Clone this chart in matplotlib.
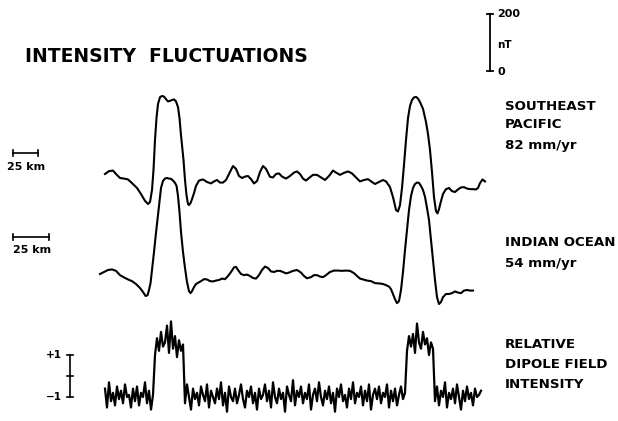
import matplotlib.pyplot as plt
import numpy as np

# Southeast Pacific profile: distance (km) and anomaly (nT)
sep_km = [1, 5, 9, 12, 16, 20, 24, 28, 33, 37, 41, 44, 46, 48, 49.5, 51, 52.5, 54, 56, 58,
          60, 62, 64, 66, 68, 70, 72, 74, 75.5, 77, 78.5, 79.5, 81, 82.5, 84, 85, 86.5, 88, 90, 92,
          95, 99, 103, 107, 110, 113, 116, 119, 122, 125, 129, 132, 135, 138, 141, 144, 147, 150, 153, 156,
          159, 162, 166, 169, 172, 175, 178, 182, 186, 190, 193, 196, 199, 202, 205, 209, 213, 217, 221, 225,
          229, 232, 236, 240, 244, 248, 252, 256, 260, 264, 268, 271, 275, 279, 282, 286, 289, 292, 294, 296,
          298, 300, 302, 304, 306, 308, 310, 312, 314, 316, 319, 322, 324, 326, 328, 330, 332, 333.5, 335, 337,
          339, 342, 345, 348, 351, 354, 357, 360, 363, 366, 369, 372, 374, 376, 378.5, 381]
sep_nt = [14, 24, 26, 14, 0, -2, -5, -18, -35, -56, -80, -91, -84, -42, 28, 133, 210, 259, 283, 287,
          285, 276, 268, 270, 273, 275, 268, 248, 210, 150, 98, 63, -7, -60, -91, -95, -88, -74, -53, -28,
          -9, -5, -14, -19, -12, -7, -16, -16, -7, 14, 42, 32, 7, 0, 5, 7, -4, -19, -11, 21,
          42, 32, 4, 2, 14, 16, 5, -2, 7, 19, 23, 14, -2, -9, 0, 11, 11, 2, -7, 7,
          26, 19, 11, 18, 23, 16, 2, -12, -7, -4, -14, -21, -14, -7, -12, -32, -67, -112, -117, -95,
          -35, 46, 133, 210, 252, 273, 282, 284, 278, 266, 242, 196, 154, 98, 21, -67, -116, -124, -109, -81,
          -56, -39, -35, -46, -49, -40, -33, -32, -37, -39, -39, -40, -35, -18, -5, -12]

# Indian Ocean profile: distance (km) and anomaly (nT)
ind_km = [0, 2.8, 5.6, 8.4, 11.2, 14, 16.8, 19.6, 22.4, 25.2, 28, 30.1, 31.9, 33.3, 34.3, 35.4, 36.4, 37.8, 39.2, 40.6,
          41.7, 42.7, 44.1, 45.5, 46.9, 48.3, 49.7, 51.1, 52.5, 53.6, 54.6, 55.7, 56.7, 58.1, 59.5, 60.9, 62.3, 63.4, 64.4, 65.8,
          67.2, 69, 70.7, 72.8, 74.9, 77, 79.1, 81.2, 83.3, 85.4, 87.5, 89.6, 91.7, 93.8, 95.2, 96.6, 98.7, 100.8, 102.9, 105,
          107.1, 109.2, 111.3, 113.4, 115.5, 117.6, 119.7, 121.8, 123.9, 126, 128.1, 130.2, 132.3, 135.1, 137.9, 140.7, 142.8, 144.9, 147.7, 149.8,
          151.9, 154, 156.1, 158.2, 161, 163.8, 166.6, 169.4, 172.2, 175, 177.8, 179.9, 182, 184.1, 186.9, 189.7, 192.5, 195.3, 198.1, 200.2,
          202.3, 203.7, 205.1, 206.5, 207.9, 209.3, 210.7, 212.1, 213.5, 214.9, 216.3, 217.7, 219.1, 220.5, 221.9, 223.3, 224.7, 226.1, 227.5, 228.9,
          230.3, 231.7, 233.1, 234.5, 235.9, 237.3, 238.7, 240.1, 242.2, 244.3, 246.4, 248.5, 250.6, 252.7, 254.8, 256.9, 259, 261.1]
ind_nt = [-7, 0, 7, 9, 4, -11, -19, -26, -32, -42, -56, -70, -84, -81, -63, -38, 7, 70, 137, 200,
          252, 294, 319, 327, 329, 327, 326, 320, 312, 301, 266, 207, 140, 70, 14, -35, -67, -74, -67, -53,
          -42, -37, -32, -25, -26, -32, -33, -30, -28, -23, -25, -14, 0, 16, 18, 7, -7, -11, -9, -14,
          -21, -23, -11, 7, 19, 14, 2, 0, 4, 4, 0, -5, -2, 4, 7, -2, -14, -22, -18, -11,
          -11, -16, -18, -11, 0, 5, 5, 4, 5, 4, -4, -14, -23, -26, -30, -32, -39, -40, -42, -46,
          -51, -60, -77, -95, -109, -102, -63, 0, 77, 147, 217, 266, 294, 308, 313, 312, 301, 287, 263, 224,
          182, 112, 42, -28, -88, -112, -105, -88, -77, -77, -74, -68, -72, -74, -65, -63, -65, -65]

# Relative dipole field intensity, one sample every 2 km (SE Pacific distance scale)
dip_km = np.arange(1, 378, 2)
dip_rel = [-0.6, -1.5, -0.3, -1.2, -0.8, -1.4, -0.5, -1.1, -0.7, -1.3, -0.4, -1.0, -0.9, -1.5, -0.6, -1.2, -0.5, -1.4, -0.8, -1.0,
           -0.3, -1.3, -0.7, -1.6, -0.9,
           1.0, 1.8, 1.2, 2.1, 1.4, 1.6, 2.4, 1.1, 2.6, 1.3, 1.9, 0.9, 1.7, 1.2, 1.5,
           -1.3, -0.4, -1.0, -1.6, -0.6, -1.1, -0.8, -1.4, -0.5, -0.9, -1.2, -0.4, -1.5, -0.7, -1.0, -1.3, -0.6, -1.1, -0.3, -1.4,
           -0.8, -1.7, -0.5, -1.0, -1.2, -0.6, -1.3, -0.9, -0.4, -1.1, -1.5, -0.7, -1.0, -0.5, -1.3, -0.8, -1.6, -0.6, -1.1, -0.9,
           -0.4, -1.2, -0.7, -1.5, -0.3, -1.0, -1.3, -0.6, -1.1, -0.8, -1.7, -0.5, -0.9, -1.2, -0.2, -1.4, -0.7, -1.0, -0.5, -1.3,
           -0.8, -1.1, -0.4, -1.6, -0.9, -0.6, -1.2, -0.3, -1.0, -1.4, -0.7, -1.1, -0.5, -1.3, -0.8, -1.7, -0.6, -1.0, -0.4, -1.2,
           -0.9, -1.5, -0.6, -1.1, -0.3, -1.3, -0.8, -1.0, -0.5, -1.4, -0.7, -1.2, -0.4, -1.6, -0.9, -0.6, -1.1, -0.5, -1.3, -0.8,
           -1.0, -0.4, -1.5, -0.7, -1.2, -0.6, -1.4, -0.9, -0.5, -1.1, -0.8,
           1.2, 1.9, 1.4, 2.0, 1.1, 2.5, 1.6, 1.3, 2.1, 1.5, 1.8, 1.0, 1.6, 1.3,
           -1.2, -0.5, -1.4, -0.7, -1.0, -0.3, -1.5, -0.8, -1.1, -0.6, -1.3, -0.4, -1.0, -1.6, -0.7, -1.2, -0.5, -1.1, -0.8, -1.4,
           -0.6, -1.0, -0.9, -0.7]

# Layout on a pixel-sized canvas
PX_PER_NT = 1 / 3.5
SEP_X0, SEP_Y0, SEP_PX_KM = 104, 178, 1.0
IND_X0, IND_Y0, IND_PX_KM = 100, 272, 1 / 0.7
DIP_X0, DIP_Y0, DIP_PX_UNIT = 104, 376, 21

fig = plt.figure(figsize=(6.18, 4.21), dpi=100)
ax = fig.add_axes([0, 0, 1, 1])
ax.set_xlim(0, 618)
ax.set_ylim(421, 0)
ax.axis("off")

k = "black"
ax.plot(SEP_X0 + np.array(sep_km) * SEP_PX_KM, SEP_Y0 - np.array(sep_nt) * PX_PER_NT, color=k, lw=1.5,
        solid_joinstyle="round")
ax.plot(IND_X0 + np.array(ind_km) * IND_PX_KM, IND_Y0 - np.array(ind_nt) * PX_PER_NT, color=k, lw=1.5,
        solid_joinstyle="round")
ax.plot(DIP_X0 + dip_km, DIP_Y0 - np.array(dip_rel) * DIP_PX_UNIT, color=k, lw=1.6)

font = dict(family="DejaVu Sans", fontweight="bold", color=k)

ax.text(25, 57, "INTENSITY  FLUCTUATIONS", fontsize=13.5, va="center", ha="left", **font)

# nT scale bar
bar_x = 490
y_top = 14
y_bot = y_top + 200 * PX_PER_NT
ax.plot([bar_x, bar_x], [y_top, y_bot], color=k, lw=1.3)
ax.plot([bar_x - 3, bar_x + 3], [y_top, y_top], color=k, lw=1.3)
ax.plot([bar_x - 3, bar_x + 3], [y_bot, y_bot], color=k, lw=1.3)
ax.text(bar_x + 7, y_top, "200", fontsize=8, va="center", ha="left", **font)
ax.text(bar_x + 7, (y_top + y_bot) / 2 + 2, "nT", fontsize=7.5, va="center", ha="left", **font)
ax.text(bar_x + 7, y_bot + 1, "0", fontsize=8, va="center", ha="left", **font)

# 25 km bars
for x0, y0, px_km, ty in [(13, 153, SEP_PX_KM, 167), (13, 237, IND_PX_KM, 250)]:
    x1 = x0 + 25 * px_km
    ax.plot([x0, x1], [y0, y0], color=k, lw=1.2)
    ax.plot([x0, x0], [y0 - 3, y0 + 3], color=k, lw=1.2)
    ax.plot([x1, x1], [y0 - 3, y0 + 3], color=k, lw=1.2)
    ax.text((x0 + x1) / 2 + 1, ty, "25 km", fontsize=8, va="center", ha="center", **font)

# dipole scale bar
bx = 70
ax.plot([bx, bx], [DIP_Y0 - DIP_PX_UNIT, DIP_Y0 + DIP_PX_UNIT], color=k, lw=1.2)
for yy in (DIP_Y0 - DIP_PX_UNIT, DIP_Y0, DIP_Y0 + DIP_PX_UNIT):
    ax.plot([bx - 3, bx + 3], [yy, yy], color=k, lw=1.2)
ax.text(62, DIP_Y0 - DIP_PX_UNIT, "+1", fontsize=7.5, va="center", ha="right", **font)
ax.text(62, DIP_Y0 + DIP_PX_UNIT, "\u22121", fontsize=7.5, va="center", ha="right", **font)

labels = [(106, "SOUTHEAST"), (125, "PACIFIC"), (145, "82 mm/yr"),
          (243, "INDIAN OCEAN"), (263, "54 mm/yr"),
          (345, "RELATIVE"), (365, "DIPOLE FIELD"), (385, "INTENSITY")]
for yy, s in labels:
    ax.text(505, yy, s, fontsize=9.6, va="center", ha="left", **font)

fig.savefig("out.png", dpi=100, facecolor="white")
